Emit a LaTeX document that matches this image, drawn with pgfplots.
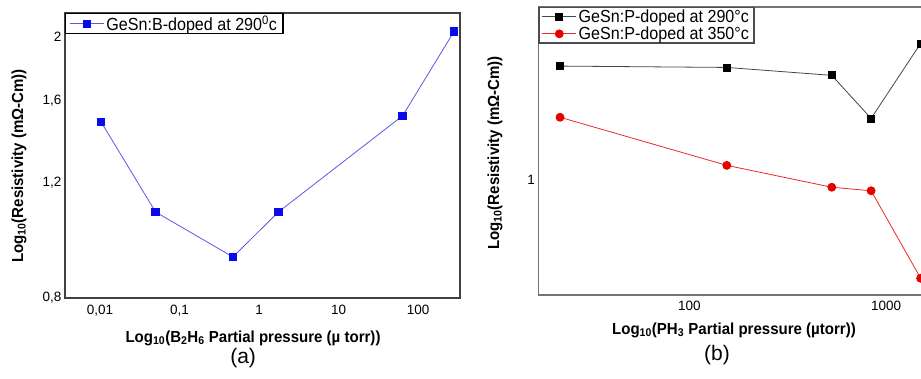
\documentclass[border=0pt]{standalone}
\usepackage{pgfplots}
\pgfplotsset{compat=1.18}
\usepackage{fontspec}
\setmainfont{Liberation Sans}
\newfontfamily\legfam{Liberation Sans}[FakeStretch=0.92]
\newfontfamily\labfam{Liberation Sans}[FakeStretch=0.94]

\definecolor{bline}{RGB}{90,90,225}
\definecolor{bmark}{RGB}{10,10,235}
\definecolor{rline}{RGB}{235,40,40}
\definecolor{rmark}{RGB}{230,0,0}
\definecolor{kline}{RGB}{70,70,70}

% Resistivity vs. B2H6 partial pressure (290 C)
\pgfplotstableread{
p      rho
0.0103 1.485
0.05   1.082
0.47   0.924
1.75   1.082
64     1.517
284    2.04
}\Bdoped

% Resistivity vs. PH3 partial pressure
\pgfplotstableread{
p      rho
22     1.493
155    1.486
530    1.445
840    1.242
1500   1.617
}\Pdopedlow

\pgfplotstableread{
p      rho
22     1.247
155    1.053
530    0.975
840    0.963
1500   0.708
}\Pdopedhigh

\newcommand{\tickfont}{\fontsize{13.5bp}{16bp}\selectfont}
\newcommand{\labfont}{\labfam\fontsize{16bp}{18bp}\selectfont\bfseries}
\newcommand{\legfont}{\legfam\fontsize{17.5bp}{19bp}\selectfont}
\newcommand{\capfont}{\fontsize{21bp}{23bp}\selectfont}

\pgfplotsset{
  legend image code/.code={%
    \draw[mark repeat=2, mark phase=2, line width=0.8bp]
      plot coordinates {(5bp,0bp) (22bp,0bp) (39bp,0bp)};},
}

\begin{document}
\begin{tikzpicture}
\path[use as bounding box] (0,0) rectangle (921bp,379bp);

% (a) B-doped
\begin{axis}[
  scale only axis,
  clip mode=individual,
  xmode=log, ymode=log,
  major tick length=0pt,
  xminorticks=false, yminorticks=false,
  /pgf/number format/assume math mode=true,
  tick label style={font=\tickfont},
  xticklabel style={yshift=-4bp},
  legend cell align=left,
  legend style={font=\legfont, draw=black, line width=1.2bp,
    inner xsep=4bp, inner ysep=0bp, row sep=-1bp, at={(0,1)}, anchor=north west},
  at={(65bp,81bp)}, anchor=south west,
  width=395bp, height=285bp,
  xmin=0.00363, xmax=337,
  ymin=0.8, ymax=2.176,
  axis line style={black!75, line width=1.2bp},
  xtick={0.01,0.1,1,10,100},
  xticklabels={{0,01},{0,1},{1},{10},{100}},
  ytick={0.8,1.2,1.6,2},
  yticklabels={{0,8},{1,2},{1,6},{2}},
  xlabel={Log\textsubscript{10}(B\textsubscript{2}H\textsubscript{6} Partial pressure (µ torr))},
  ylabel={Log\textsubscript{10}(Resistivity (mΩ-Cm))},
  xlabel style={font=\labfont, at={(axis description cs:0.476,-0.140)}, anchor=center},
  ylabel style={font=\labfont, at={(axis description cs:-0.1165,0.463)}, anchor=center},
]
\addplot[bline, line width=0.8bp, mark=square*, mark size=3.8bp,
  mark options={bmark, fill=bmark}] table[x=p, y=rho] {\Bdoped};
\addlegendentry{GeSn:B-doped at 290\textsuperscript{0}c}
\node[font=\capfont] at (axis description cs:0.451,-0.210) {(a)};
\end{axis}

% (b) P-doped
\begin{axis}[
  scale only axis,
  clip mode=individual,
  xmode=log, ymode=log,
  major tick length=0pt,
  xminorticks=false, yminorticks=false,
  /pgf/number format/assume math mode=true,
  tick label style={font=\tickfont},
  xticklabel style={yshift=-3bp},
  legend cell align=left,
  legend style={font=\legfont, draw=black!70, line width=1.2bp,
    inner xsep=3bp, inner ysep=0bp, row sep=-1bp, at={(0,1)}, anchor=north west},
  at={(538.3bp,84bp)}, anchor=south west,
  width=391.7bp, height=288bp,
  xmin=17.06, xmax=1674,
  ymin=0.6675, ymax=1.838,
  axis line style={black!55, line width=1.2bp},
  clip marker paths=true,
  xtick={100,1000},
  xticklabels={{100},{1000}},
  ytick={1},
  yticklabels={{1}},
  xlabel={Log\textsubscript{10}(PH\textsubscript{3} Partial pressure (µtorr))},
  ylabel={Log\textsubscript{10}(Resistivity (mΩ-Cm))},
  xlabel style={font=\labfont, at={(axis description cs:0.4996,-0.1215)}, anchor=center},
  ylabel style={font=\labfont, at={(axis description cs:-0.1105,0.493)}, anchor=center},
]
\addplot[kline, line width=0.8bp, mark=square*, mark size=3.5bp,
  mark options={black, fill=black}] table[x=p, y=rho] {\Pdopedlow};
\addlegendentry{GeSn:P-doped at 290°c}
\addplot[rline, line width=0.8bp, mark=*, mark size=4bp,
  mark options={rmark, fill=rmark}] table[x=p, y=rho] {\Pdopedhigh};
\addlegendentry{GeSn:P-doped at 350°c}
\node[font=\capfont] at (axis description cs:0.456,-0.210) {(b)};
\end{axis}
\end{tikzpicture}
\end{document}
